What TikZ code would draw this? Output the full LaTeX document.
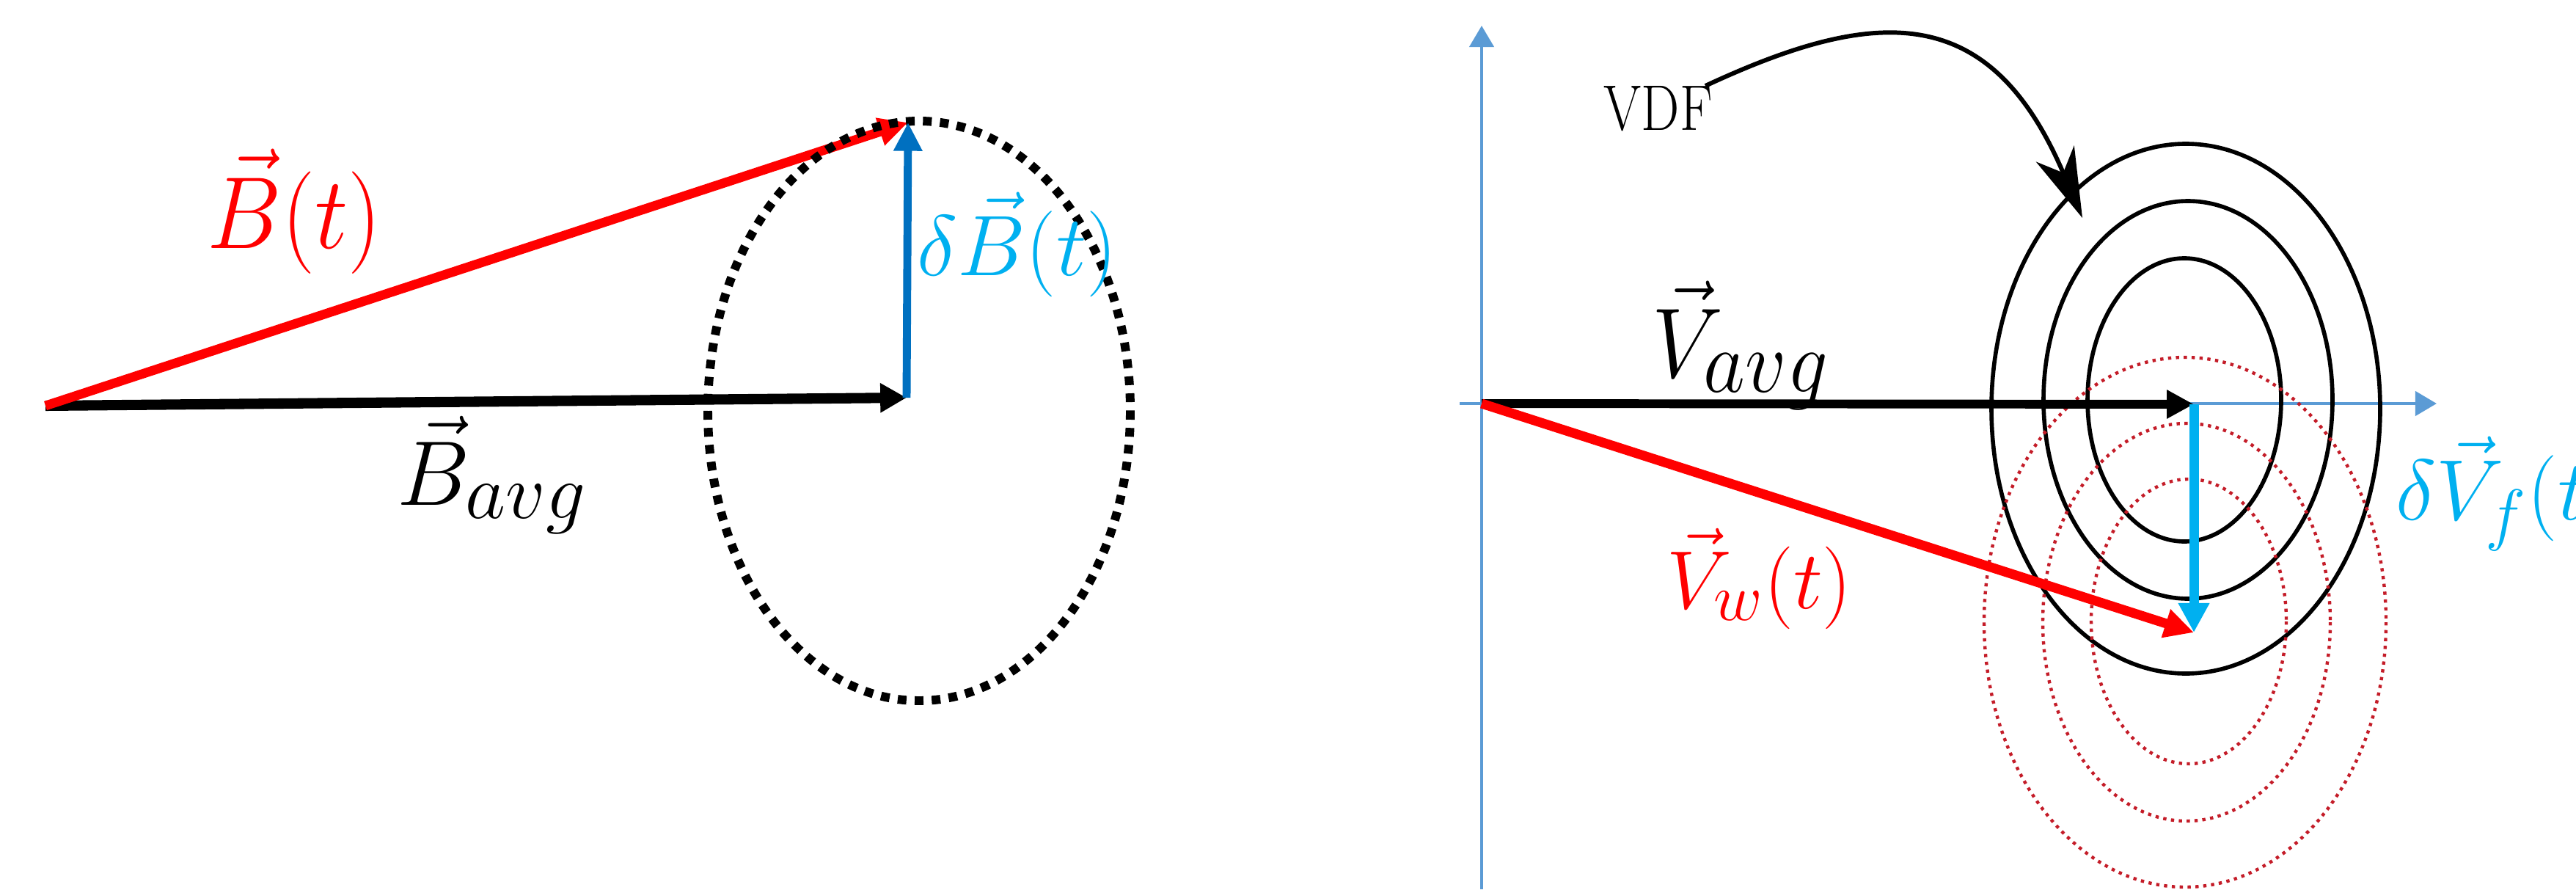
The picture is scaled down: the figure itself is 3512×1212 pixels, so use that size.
\RequirePackage{fix-cm}
\documentclass[tikz,border=0pt]{standalone}
\usetikzlibrary{arrows.meta}
\definecolor{vred}{RGB}{255,0,0}
\definecolor{dred}{RGB}{196,28,40}
\definecolor{vcyan}{RGB}{0,176,240}
\definecolor{vblue}{RGB}{0,112,192}
\definecolor{axblue}{RGB}{91,155,213}
\newcommand\fsz[1]{\fontsize{#1}{#1}\selectfont}
\newcommand\subsz[2]{\mbox{\fontsize{#1}{#1}\selectfont$#2$}}
\begin{document}
\begin{tikzpicture}[x=0.01cm,y=-0.01cm,
  lbl/.style={inner sep=0pt,anchor=base west},
  axis/.style={axblue,line width=1.4pt,-{Triangle[length=8.3pt,width=9.4pt]}},
  vdfell/.style={black,line width=1.6pt},
  wdfell/.style={dred,line width=1.25pt,dash pattern=on 1.25pt off 1.8pt},
  bell/.style={black,line width=3.4pt,dash pattern=on 3.4pt off 3.2pt}]
\useasboundingbox (0,0) rectangle (3512,1212);
\fill[white] (0,0) rectangle (3512,1212);
% ---------- left panel ----------
\coordinate (O1) at (62,553);
\coordinate (A1) at (1236,542);
\coordinate (T1) at (1238,167);
\coordinate (C1) at (1253,560);
\draw[line width=4pt,black,-{Triangle[length=10.2pt,width=10.8pt]}] (O1) -- (A1);
\draw[line width=3.6pt,vred,-{Triangle[length=11.4pt,width=10.5pt]}] (O1) -- (T1);
\draw[bell] (C1) ellipse [x radius=288,y radius=395];
\draw[line width=3.1pt,vblue,-{Triangle[length=11pt,width=10.5pt]}] (A1) -- (T1);
\node[lbl,text=vred] (Bt) at (282,338) {\fsz{36.4}\scalebox{1}[1.09]{$\vec{B}(t)$}};
\node[lbl,text=vcyan] (dBt) at (1250,375) {\fsz{33.3}$\delta\vec{B}(t)$};
\node[lbl] (Bavg) at (541,688) {\fsz{35.6}$\vec{B}_{\subsz{30.4}{avg}}$};
% ---------- right panel ----------
\coordinate (O2) at (2020,550);
\coordinate (A2) at (2991,551);
\coordinate (W2) at (2991,862);
\coordinate (yb) at (2020,1212);
\coordinate (yt) at (2020,35);
\coordinate (xl) at (1990,550);
\coordinate (xr) at (3322,550);
\draw[axis] (yb) -- (yt);
\draw[axis] (xl) -- (xr);
\draw[vdfell] (2980,557) ellipse [x radius=265,y radius=361];
\draw[vdfell] (2983,545) ellipse [x radius=197,y radius=271];
\draw[vdfell] (2978,545) ellipse [x radius=132,y radius=193];
\draw[wdfell] (2979,848) ellipse [x radius=274,y radius=361];
\draw[wdfell] (2981,848) ellipse [x radius=196,y radius=271];
\draw[wdfell] (2984,847) ellipse [x radius=133,y radius=194];
\draw[line width=3.4pt,black,-{Triangle[length=10.5pt,width=10.5pt]}] (O2) -- (A2);
\draw[line width=3.7pt,vred,-{Triangle[length=11.4pt,width=10.8pt]}] (O2) -- (W2);
\draw[line width=3.7pt,vcyan,-{Triangle[length=11.4pt,width=11.4pt]}] (A2) -- (W2);
\node[lbl] (VDF) at (2186,177) {\fsz{25}\scalebox{0.84}[1]{VDF}};
\coordinate (vdfs) at (2325,117);
\coordinate (vdft) at (2839,297);
\draw[line width=1.7pt,black,-{Stealth[length=27pt,width=16pt,inset=8pt]}] (vdfs) .. controls (2561,7) and (2714,3) .. (vdft);
\node[lbl] (Vavg) at (2252,514) {\fsz{35}\scalebox{1}[1.1]{$\vec{V}_{\subsz{31.5}{avg}}$}};
\node[lbl,text=vred] (Vw) at (2272,829) {\fsz{32}$\vec{V}_{\subsz{26}{w}}(t)$};
\node[lbl,text=vcyan] (dVf) at (3266,708) {\fsz{33.3}$\delta\vec{V}_{\subsz{26.6}{f}}(t)$};
\end{tikzpicture}
\end{document}
